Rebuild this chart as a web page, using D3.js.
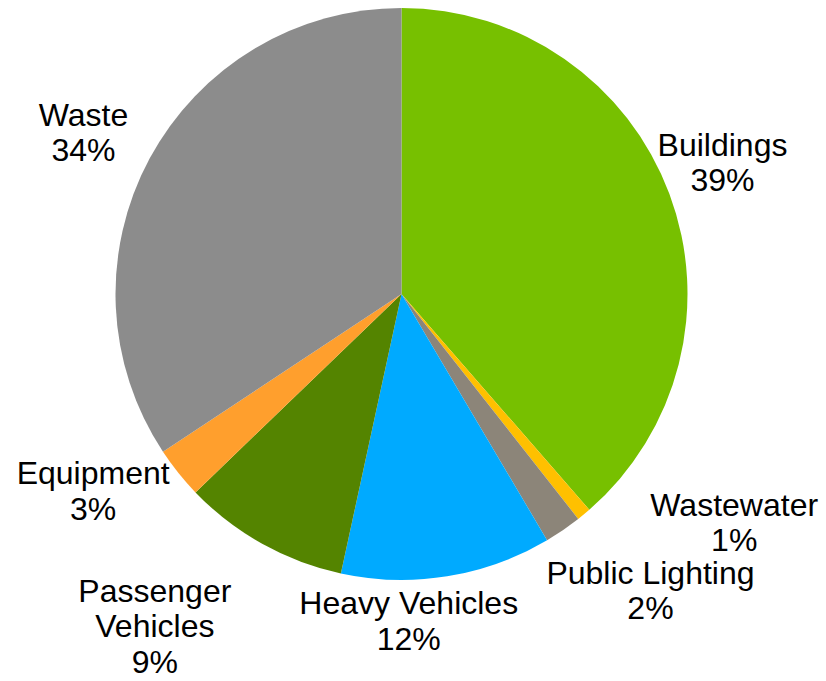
<!DOCTYPE html>
<html>
<head>
<meta charset="utf-8">
<script src="https://cdn.jsdelivr.net/npm/d3@7"></script>
<style>
  html, body { margin: 0; padding: 0; background: #fff; }
  svg { display: block; }
</style>
</head>
<body>
<svg id="chart" width="826" height="681"></svg>
<script>
// ---- data ----
const categories = ["Buildings", "Wastewater", "Public Lighting", "Heavy Vehicles", "Passenger Vehicles", "Equipment", "Waste"];
const values = [38.6, 0.8, 2.1, 11.9, 9.4, 2.9, 34.3];
const pctLabels = ["39%", "1%", "2%", "12%", "9%", "3%", "34%"];
const nameLines = [["Buildings"], ["Wastewater"], ["Public Lighting"], ["Heavy Vehicles"], ["Passenger", "Vehicles"], ["Equipment"], ["Waste"]];
const colors = ["#77C000", "#FFC000", "#8C8579", "#00AAFF", "#548400", "#FF9F2D", "#8C8C8C"];

// ---- layout ----
const W = 826, H = 681;
const cx = 401.5, cy = 294, R = 286;
const labelR = 340;
const labelNudge = [[2.6, -12.3], [116, -33.5], [57, 16], [-47, -8.6], [-81, 35.5], [-43, -15.6], [-18.6, -0.3]];
const fontSize = 32, lineH = 35.5;

const svg = d3.select("#chart");
const g = svg.append("g").attr("transform", `translate(${cx},${cy})`);

const pie = d3.pie().sort(null).value(d => d.value);
const data = categories.map((c, i) => ({ name: c, value: values[i], i }));
const arcs = pie(data);

const arc = d3.arc().innerRadius(0).outerRadius(R);
const labelArc = d3.arc().innerRadius(labelR).outerRadius(labelR);

g.selectAll("path.slice")
  .data(arcs)
  .join("path")
  .attr("class", "slice")
  .attr("d", arc)
  .attr("fill", d => colors[d.data.i]);

g.selectAll("text.lbl")
  .data(arcs)
  .join("text")
  .attr("class", "lbl")
  .attr("text-anchor", "middle")
  .attr("font-family", "'Liberation Sans', Arial, sans-serif")
  .attr("font-size", fontSize)
  .attr("fill", "#000")
  .each(function(d) {
    const i = d.data.i;
    const c = labelArc.centroid(d);
    const x = c[0] + labelNudge[i][0];
    const y = c[1] + labelNudge[i][1];
    const lines = nameLines[i].concat([pctLabels[i]]);
    const n = lines.length;
    const t = d3.select(this);
    lines.forEach((ln, k) => {
      t.append("tspan")
        .attr("x", x)
        .attr("y", y + (k - (n - 1) / 2) * lineH + 11)
        .text(ln);
    });
  });
</script>
</body>
</html>
